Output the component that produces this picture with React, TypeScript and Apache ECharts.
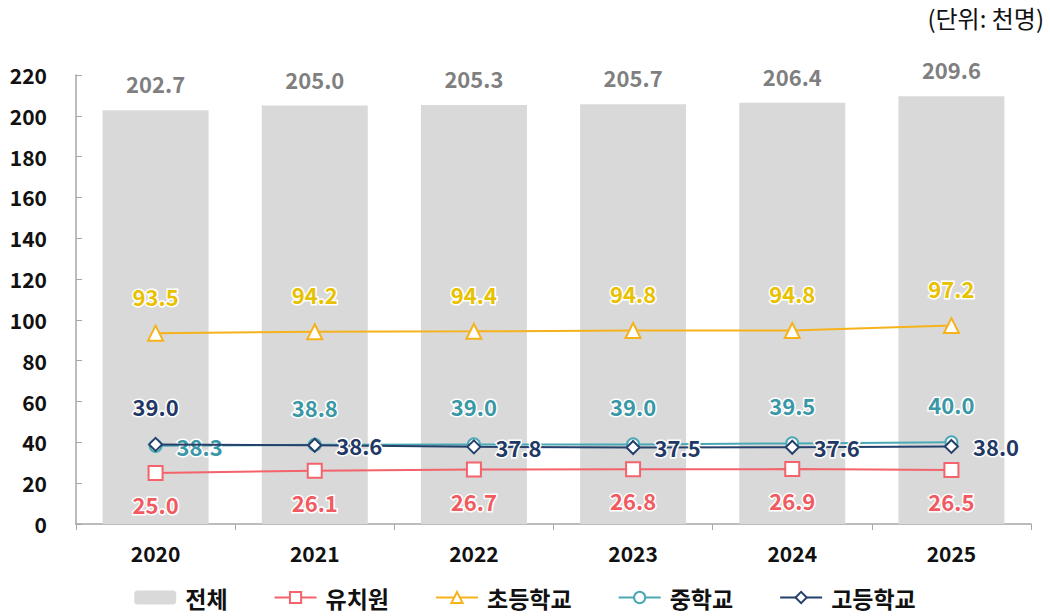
import React, { useEffect, useRef } from "react";
import * as echarts from "echarts";

const years = ["2020", "2021", "2022", "2023", "2024", "2025"];
const total = [202.7, 205.0, 205.3, 205.7, 206.4, 209.6];
const kinder = [25.0, 26.1, 26.7, 26.8, 26.9, 26.5];
const elementary = [93.5, 94.2, 94.4, 94.8, 94.8, 97.2];
const middle = [38.3, 38.8, 39.0, 39.0, 39.5, 40.0];
const high = [39.0, 38.6, 37.8, 37.5, 37.6, 38.0];
const yTicks = { min: 0, max: 220, interval: 20 };
const unitText = "(단위: 천명)";

const FONT = "'Noto Sans CJK KR', 'Noto Sans', sans-serif";

export default function App() {
  const ref = useRef<HTMLDivElement>(null);
  useEffect(() => {
    if (!ref.current) return;
    const chart = echarts.init(ref.current, null, { renderer: "svg" });
    const halo = { textBorderColor: "#fff", textBorderWidth: 3 };
    const fmt = (p: any) => Number(p.value).toFixed(1);
    const option: any = {
      animation: false,
      textStyle: { fontFamily: FONT },
      graphic: [
        {
          type: "text",
          right: 6,
          top: 5,
          style: { text: unitText, fontSize: 24, fontFamily: FONT, fill: "#111" },
        },
      ],
      grid: { left: 76, right: 19, top: 75, bottom: 92, containLabel: false },
      legend: {
        bottom: 2,
        left: "center",
        itemWidth: 42,
        itemHeight: 14,
        itemGap: 46,
        textStyle: { fontSize: 23, fontWeight: "bold", color: "#111", fontFamily: FONT, padding: [0, 0, 0, 4] },
        data: ["전체", "유치원", "초등학교", "중학교", "고등학교"],
      },
      xAxis: {
        type: "category",
        data: years,
        axisLine: { lineStyle: { color: "#a6a6a6", width: 1.5 } },
        axisTick: { show: true, length: 6, lineStyle: { color: "#a6a6a6" } },
        axisLabel: { fontSize: 21, fontWeight: "bold", color: "#111", margin: 18, fontFamily: FONT },
      },
      yAxis: {
        type: "value",
        min: yTicks.min,
        max: yTicks.max,
        interval: yTicks.interval,
        axisLine: { show: true, lineStyle: { color: "#a6a6a6", width: 1.5 } },
        axisTick: { show: true, inside: true, length: 6, lineStyle: { color: "#a6a6a6" } },
        splitLine: { show: false },
        axisLabel: { fontSize: 21, fontWeight: "bold", color: "#111", margin: 29, fontFamily: FONT },
      },
      series: [
        {
          name: "전체",
          type: "bar",
          data: total,
          barWidth: 106,
          itemStyle: { color: "#d9d9d9" },
          label: {
            show: true,
            position: "top",
            distance: 16,
            fontSize: 22,
            fontWeight: "bold",
            color: "#7f7f7f",
            formatter: fmt,
            fontFamily: FONT,
          },
          z: 1,
        },
        {
          name: "유치원",
          type: "line",
          data: kinder,
          symbol: "emptyRect",
          symbolSize: 14,
          lineStyle: { color: "#f4636b", width: 2 },
          itemStyle: { color: "#f4636b", borderWidth: 2 },
          label: {
            show: true,
            position: "bottom",
            distance: 12,
            fontSize: 22,
            fontWeight: "bold",
            color: "#f05a60",
            formatter: fmt,
            fontFamily: FONT,
            ...halo,
          },
          z: 3,
        },
        {
          name: "초등학교",
          type: "line",
          data: elementary,
          symbol: "emptyTriangle",
          symbolSize: 15,
          lineStyle: { color: "#f5b21b", width: 2 },
          itemStyle: { color: "#f5b21b", borderWidth: 2 },
          label: {
            show: true,
            position: "top",
            distance: 18,
            fontSize: 22,
            fontWeight: "bold",
            color: "#e8c100",
            formatter: fmt,
            fontFamily: FONT,
            ...halo,
          },
          z: 3,
        },
        {
          name: "중학교",
          type: "line",
          data: middle.map((v, i) =>
            i === 0
              ? { value: v, label: { position: "right", distance: 14 } }
              : { value: v }
          ),
          symbol: "emptyCircle",
          symbolSize: 12,
          lineStyle: { color: "#4aa9b5", width: 2 },
          itemStyle: { color: "#4aa9b5", borderWidth: 2 },
          label: {
            show: true,
            position: "top",
            distance: 20,
            fontSize: 22,
            fontWeight: "bold",
            color: "#3a98a6",
            formatter: fmt,
            fontFamily: FONT,
            ...halo,
          },
          z: 3,
        },
        {
          name: "고등학교",
          type: "line",
          data: high.map((v, i) =>
            i === 0
              ? { value: v, label: { position: "top", distance: 20 } }
              : { value: v }
          ),
          symbol: "emptyDiamond",
          symbolSize: 13,
          lineStyle: { color: "#25406b", width: 2 },
          itemStyle: { color: "#25406b", borderWidth: 2 },
          label: {
            show: true,
            position: "right",
            distance: 14,
            fontSize: 22,
            fontWeight: "bold",
            color: "#1f3864",
            formatter: fmt,
            fontFamily: FONT,
            ...halo,
          },
          z: 4,
        },
      ],
    };
    chart.setOption(option);
    return () => chart.dispose();
  }, []);
  return (
    <div
      ref={ref}
      style={{ position: "absolute", left: 0, top: 0, width: 1050, height: 616 }}
    />
  );
}
